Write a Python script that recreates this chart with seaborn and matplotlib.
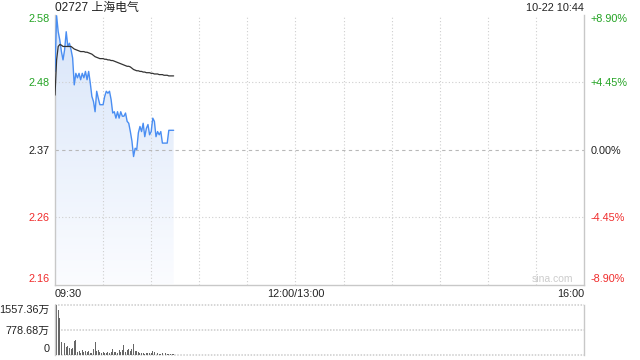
import numpy as np
import matplotlib
matplotlib.use("Agg")
import matplotlib.pyplot as plt
import seaborn as sns
from matplotlib.colors import LinearSegmentedColormap

# ---------------- data ----------------
title = "02727 上海电气"
stamp = "10-22 10:44"
prev_close = 2.37
minutes = list(range(75))  # minutes since 09:30
price = [2.492, 2.579, 2.554, 2.541, 2.523, 2.510, 2.526, 2.554, 2.531, 2.536,
         2.526, 2.513, 2.471, 2.489, 2.482, 2.489, 2.479, 2.489, 2.482, 2.492,
         2.479, 2.492, 2.474, 2.453, 2.445, 2.429, 2.461, 2.450, 2.440, 2.440,
         2.440, 2.453, 2.461, 2.458, 2.461, 2.448, 2.427, 2.429, 2.419, 2.429,
         2.419, 2.429, 2.422, 2.422, 2.427, 2.414, 2.411, 2.398, 2.383, 2.359,
         2.372, 2.370, 2.396, 2.406, 2.398, 2.411, 2.390, 2.403, 2.409, 2.393,
         2.398, 2.419, 2.414, 2.390, 2.398, 2.393, 2.398, 2.380, 2.380, 2.380,
         2.380, 2.400, 2.400, 2.400, 2.400]
avg_price = [2.455, 2.510, 2.531, 2.534, 2.533, 2.531, 2.531, 2.531, 2.531, 2.531,
             2.531, 2.529, 2.527, 2.526, 2.525, 2.524, 2.523, 2.523, 2.523, 2.522,
             2.522, 2.521, 2.520, 2.519, 2.517, 2.515, 2.514, 2.513, 2.512, 2.512,
             2.512, 2.511, 2.511, 2.510, 2.510, 2.509, 2.509, 2.508, 2.507, 2.506,
             2.505, 2.504, 2.503, 2.502, 2.501, 2.500, 2.500, 2.499, 2.497, 2.495,
             2.494, 2.493, 2.493, 2.492, 2.492, 2.491, 2.491, 2.490, 2.490, 2.490,
             2.489, 2.489, 2.488, 2.488, 2.488, 2.487, 2.487, 2.487, 2.486, 2.486,
             2.486, 2.485, 2.485, 2.485, 2.485]
volume = [1273, 1557.36, 1378, 1136, 400, 536, 368, 242, 274, 210,
          168, 190, 420, 452, 84, 105, 32, 137, 84, 105,
          63, 116, 53, 32, 168, 379, 116, 137, 84, 53,
          74, 32, 53, 84, 42, 63, 179, 63, 84, 53,
          137, 84, 137, 295, 84, 137, 158, 105, 158, 326,
          116, 116, 84, 53, 32, 32, 21, 53, 32, 53,
          53, 116, 74, 63, 42, 21, 21, 32, 63, 42,
          21, 11, 11, 21, 11]  # 万
pct_levels = [8.90, 4.45, 0.0, -4.45, -8.90]
left_labels = ["2.58", "2.48", "2.37", "2.26", "2.16"]
right_labels = ["+8.90%", "+4.45%", "0.00%", "-4.45%", "-8.90%"]
time_ticks = [0, 150, 330]
time_labels = ["09:30", "12:00/13:00", "16:00"]
vol_max = 1557.36
vol_labels = ["1557.36万", "778.68万", "0"]

# ---------------- style ----------------
sns.set_style("white")
plt.rcParams["font.family"] = ["Liberation Sans", "Noto Sans CJK SC", "DejaVu Sans"]

GREEN = "#23a323"
RED = "#f02b2b"
BLACK = "#222222"
label_colors = [GREEN, GREEN, BLACK, RED, RED]
SPINE = "#c8c8c8"
GRID = "#cfcfcf"
FS = 7.8

fig = plt.figure(figsize=(6.4, 3.6), dpi=100)
ax = fig.add_axes([55 / 640, 1 - 284.5 / 360, 529 / 640, 270 / 360])
axv = fig.add_axes([55 / 640, 1 - 354.5 / 360, 529 / 640, 50 / 360])

levels = [prev_close * (1 + p / 100) for p in pct_levels]
ymin, ymax = levels[-1], levels[0]

# gradient fill under price line
cmap = LinearSegmentedColormap.from_list("g", ["#fbfcff", "#d8e5f9"])
grad = np.linspace(0, 1, 256).reshape(-1, 1)
img = ax.imshow(grad, extent=[minutes[0], minutes[-1], ymin, max(price)], origin="lower",
                aspect="auto", cmap=cmap, zorder=1, interpolation="bilinear")
poly = ax.fill_between(minutes, price, ymin, facecolor="none", edgecolor="none")
img.set_clip_path(poly.get_paths()[0], transform=ax.transData)

sns.lineplot(x=minutes, y=price, ax=ax, color="#4a8ef2", linewidth=1.0, zorder=3)
sns.lineplot(x=minutes, y=avg_price, ax=ax, color="#333333", linewidth=0.9, zorder=4)

ax.set_xlim(0, 330)
ax.set_ylim(ymin, ymax)
ax.set_xlabel("")
ax.set_ylabel("")

# grid lines
for i, lv in enumerate(levels[1:4]):
    if abs(lv - prev_close) < 1e-9:
        ax.axhline(lv, color="#b8b8b8", lw=0.8, ls=(0, (3, 3)), zorder=2)
    else:
        ax.axhline(lv, color=GRID, lw=0.8, ls=(0, (1, 2)), zorder=2)
for t in range(30, 330, 30):
    ax.axvline(t, color=GRID, lw=0.8, ls=(0, (1, 2)), zorder=2)

for s in ["left", "right", "bottom"]:
    ax.spines[s].set_color(SPINE)
    ax.spines[s].set_linewidth(1.0)
ax.spines["top"].set_visible(False)

ax.set_yticks(levels)
ax.set_yticklabels(left_labels)
for lab, c in zip(ax.get_yticklabels(), label_colors):
    lab.set_color(c)
ylabs = ax.get_yticklabels()
ylabs[0].set_va("top")
ylabs[-1].set_va("bottom")
ax.tick_params(axis="y", length=0, pad=4, labelsize=FS)

ax.set_xticks(time_ticks)
ax.set_xticklabels(time_labels)
xl = ax.get_xticklabels()
xl[0].set_ha("left")
xl[1].set_ha("center")
xl[2].set_ha("right")
ax.tick_params(axis="x", length=0, pad=3, labelsize=FS, labelcolor=BLACK)

axr = ax.twinx()
axr.set_ylim(ymin, ymax)
axr.set_yticks(levels)
axr.set_yticklabels(right_labels)
for lab, c in zip(axr.get_yticklabels(), label_colors):
    lab.set_color(c)
rl = axr.get_yticklabels()
rl[0].set_va("top")
rl[-1].set_va("bottom")
axr.tick_params(axis="y", length=0, pad=5, labelsize=FS)
for s in axr.spines.values():
    s.set_visible(False)

# volume
sns.barplot(x=minutes, y=volume, ax=axv, native_scale=True, color="#666666",
            width=0.6, errorbar=None, saturation=1, linewidth=0)
axv.set_xlim(0, 330)
axv.set_ylim(0, vol_max)
axv.set_xlabel("")
axv.set_ylabel("")
axv.set_xticks([])
vlev = [vol_max, vol_max / 2, 0]
for v in vlev:
    axv.axhline(v, color="#cccccc", lw=1.1, ls=(0, (1, 1)), zorder=0, clip_on=False)
axv.set_yticks(vlev)
axv.set_yticklabels(vol_labels)
vl = axv.get_yticklabels()
vl[0].set_va("top")
vl[-1].set_va("bottom")
axv.tick_params(axis="y", length=0, pad=4, labelsize=FS, labelcolor=BLACK)
axv.spines["top"].set_visible(False)
axv.spines["bottom"].set_visible(False)
for s in ["left", "right"]:
    axv.spines[s].set_color(SPINE)
    axv.spines[s].set_linewidth(1.0)

# texts
fig.text(55 / 640, 1 - 7.5 / 360, title, ha="left", va="center", fontsize=8.6, color=BLACK)
fig.text(584 / 640, 1 - 8 / 360, stamp, ha="right", va="center", fontsize=FS, color=BLACK)
fig.text(552 / 640, 1 - 279 / 360, "sina.com", ha="center", va="center", fontsize=7.5,
         color="#cccccc")

fig.savefig("out.png", dpi=100)
